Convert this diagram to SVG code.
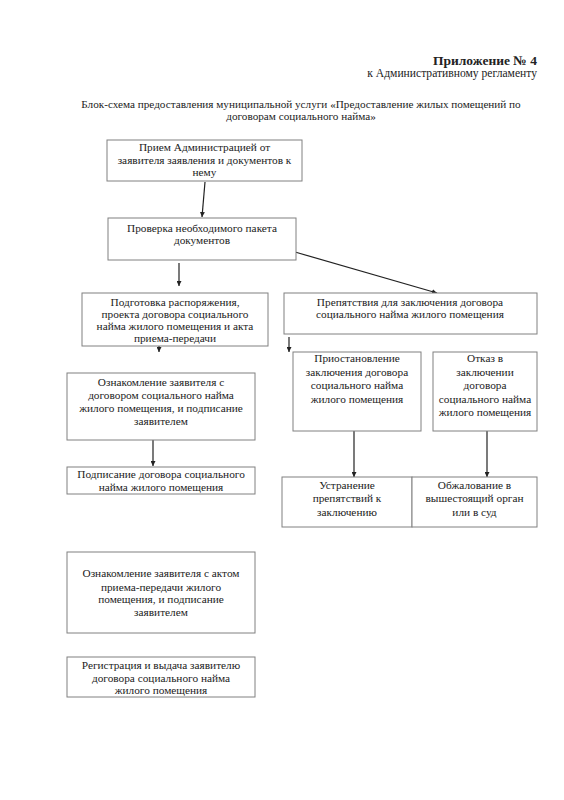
<svg xmlns="http://www.w3.org/2000/svg" width="564" height="800" viewBox="0 0 564 800">
<style>
text{font-family:"Liberation Serif","Times New Roman",serif;fill:#222;font-size:11.3px}
.c{text-anchor:middle}
.r{text-anchor:end}
.box{fill:#fff;stroke:#808080;stroke-width:1}
.ln{stroke:#222;stroke-width:1.2;fill:none;marker-end:url(#ah)}
</style>
<defs>
<marker id="ah" viewBox="0 0 10 10" refX="10" refY="5" markerWidth="5" markerHeight="5" orient="auto" markerUnits="userSpaceOnUse">
<path d="M0,0 L10,5 L0,10 Z" fill="#222"/>
</marker>
</defs>
<rect width="564" height="800" fill="#fff"/>
<g id="header">
<text class="r" x="537" y="65" style="font-weight:bold;font-size:13.5px">Приложение № 4</text>
<text class="r" x="537" y="77" style="font-size:11.6px">к Административному регламенту</text>
<text class="c" x="301" y="108" style="font-size:11.2px">Блок-схема предоставления муниципальной услуги «Предоставление жилых помещений по</text>
<text class="c" x="301" y="120" style="font-size:11.2px">договорам социального найма»</text>
</g>
<g id="connectors">
<line class="ln" x1="205" y1="182" x2="202" y2="217"/>
<line class="ln" x1="179" y1="263" x2="179" y2="286"/>
<line class="ln" x1="295" y1="252" x2="437" y2="293"/>
<line class="ln" x1="159" y1="340" x2="159" y2="352"/>
<line class="ln" x1="289" y1="337" x2="289" y2="352"/>
<line class="ln" x1="153" y1="440" x2="153" y2="466"/>
<line class="ln" x1="354" y1="431" x2="354" y2="477"/>
<line class="ln" x1="487" y1="431" x2="487" y2="477"/>
</g>
<g id="n1">
<rect class="box" x="107" y="140" width="195" height="41"/>
<text class="c" x="204.5" y="151">Прием Администрацией от</text>
<text class="c" x="204.5" y="163.5">заявителя заявления и документов к</text>
<text class="c" x="204.5" y="176">нему</text>
</g>
<g id="n2">
<rect class="box" x="108" y="218" width="188" height="42"/>
<text class="c" x="202" y="232">Проверка необходимого пакета</text>
<text class="c" x="202" y="244">документов</text>
</g>
<g id="n3">
<rect class="box" x="82" y="293" width="186" height="53"/>
<text class="c" x="175" y="306">Подготовка распоряжения,</text>
<text class="c" x="175" y="318">проекта договора социального</text>
<text class="c" x="175" y="330">найма жилого помещения и акта</text>
<text class="c" x="175" y="342">приема-передачи</text>
</g>
<g id="n4">
<rect class="box" x="284" y="293" width="253" height="41"/>
<text class="c" x="410" y="306">Препятствия для заключения договора</text>
<text class="c" x="410" y="318">социального найма жилого помещения</text>
</g>
<g id="n5">
<rect class="box" x="67" y="373" width="188" height="67"/>
<text class="c" x="161" y="386">Ознакомление заявителя с</text>
<text class="c" x="161" y="399">договором социального найма</text>
<text class="c" x="161" y="412">жилого помещения, и подписание</text>
<text class="c" x="161" y="424.5">заявителем</text>
</g>
<g id="n6">
<rect class="box" x="67" y="467" width="188" height="27"/>
<text class="c" x="161" y="478">Подписание договора социального</text>
<text class="c" x="161" y="491">найма жилого помещения</text>
</g>
<g id="n7">
<rect class="box" x="293" y="352" width="128" height="79"/>
<text class="c" x="357" y="362">Приостановление</text>
<text class="c" x="357" y="375.5">заключения договора</text>
<text class="c" x="357" y="389">социального найма</text>
<text class="c" x="357" y="402.5">жилого помещения</text>
</g>
<g id="n8">
<rect class="box" x="433" y="352" width="104" height="79"/>
<text class="c" x="485" y="362">Отказ в</text>
<text class="c" x="485" y="375.5">заключении</text>
<text class="c" x="485" y="389">договора</text>
<text class="c" x="485" y="402.5">социального найма</text>
<text class="c" x="485" y="416">жилого помещения</text>
</g>
<g id="n9">
<rect class="box" x="282" y="477" width="130" height="50"/>
<text class="c" x="347" y="489">Устранение</text>
<text class="c" x="347" y="502">препятствий к</text>
<text class="c" x="347" y="515.5">заключению</text>
</g>
<g id="n10">
<rect class="box" x="412" y="477" width="125" height="50"/>
<text class="c" x="474.5" y="489">Обжалование в</text>
<text class="c" x="474.5" y="502">вышестоящий орган</text>
<text class="c" x="474.5" y="515.5">или в суд</text>
</g>
<g id="n11">
<rect class="box" x="67" y="552" width="188" height="81"/>
<text class="c" x="161" y="577">Ознакомление заявителя с актом</text>
<text class="c" x="161" y="590.5">приема-передачи жилого</text>
<text class="c" x="161" y="603">помещения, и подписание</text>
<text class="c" x="161" y="616">заявителем</text>
</g>
<g id="n12">
<rect class="box" x="67" y="657" width="188" height="40"/>
<text class="c" x="161" y="669">Регистрация и выдача заявителю</text>
<text class="c" x="161" y="682">договора социального найма</text>
<text class="c" x="161" y="694">жилого помещения</text>
</g>
</svg>
